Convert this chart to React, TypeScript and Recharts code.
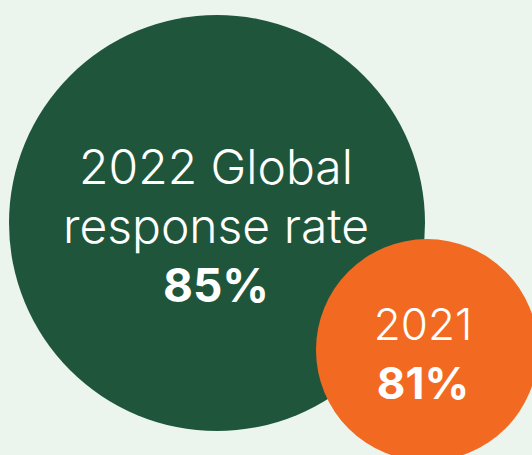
import { ScatterChart, Scatter, XAxis, YAxis, ZAxis } from "recharts";

// bubble labels and values
const years = ["2022", "2021"];
const captions = [["2022 Global", "response rate"], ["2021"]];
const rates = [85, 81];
// layout coordinates of each bubble, in chart units
const bubbleX = [217, 427];
const bubbleY = [223, 350];

const BG = "#ebf5ee";
const GREEN = "#1f563b";
const ORANGE = "#f26922";
const FONT = "Inter, 'Noto Sans', sans-serif";

const data = years.map((year, i) => ({
  year,
  lines: captions[i],
  rate: rates[i],
  x: bubbleX[i],
  y: bubbleY[i],
  fill: i === 0 ? GREEN : ORANGE,
}));

type ShapeProps = {
  cx?: number;
  cy?: number;
  size?: number;
  payload?: (typeof data)[number];
};

function Bubble(props: ShapeProps) {
  const { cx = 0, cy = 0, size = 0, payload } = props;
  if (!payload) return null;
  const r = Math.sqrt(size / Math.PI);
  const big = payload.lines.length > 1;
  const fs = big ? 48 : 44;
  const step = 59;
  const first = big ? cy - 39 : cy - 10;
  const tx = big ? cx - 1 : cx - 4;
  return (
    <g>
      <circle cx={cx} cy={cy} r={r} fill={payload.fill} />
      {payload.lines.map((line, i) => (
        <text
          key={line}
          x={tx}
          y={first + i * step}
          textAnchor="middle"
          fill="#ffffff"
          fontFamily={FONT}
          fontWeight={300}
          fontSize={fs}
        >
          {line}
        </text>
      ))}
      <text
        x={tx}
        y={first + payload.lines.length * step}
        textAnchor="middle"
        fill="#ffffff"
        fontFamily={FONT}
        fontWeight={700}
        fontSize={big ? 46 : 44}
      >
        {payload.rate}%
      </text>
    </g>
  );
}

export default function App() {
  return (
    <div style={{ position: "absolute", left: 0, top: 0, width: 532, height: 455, background: BG, overflow: "hidden" }}>
      <ScatterChart width={532} height={455} margin={{ top: 0, right: 0, bottom: 0, left: 0 }}>
        <XAxis type="number" dataKey="x" domain={[0, 532]} hide />
        <YAxis type="number" dataKey="y" domain={[0, 455]} reversed hide />
        <ZAxis type="number" dataKey="rate" domain={[81, 85]} range={[Math.PI * 111 * 111, Math.PI * 208 * 208]} />
        <Scatter data={data} shape={(p: ShapeProps) => <Bubble {...p} />} isAnimationActive={false} />
      </ScatterChart>
    </div>
  );
}
